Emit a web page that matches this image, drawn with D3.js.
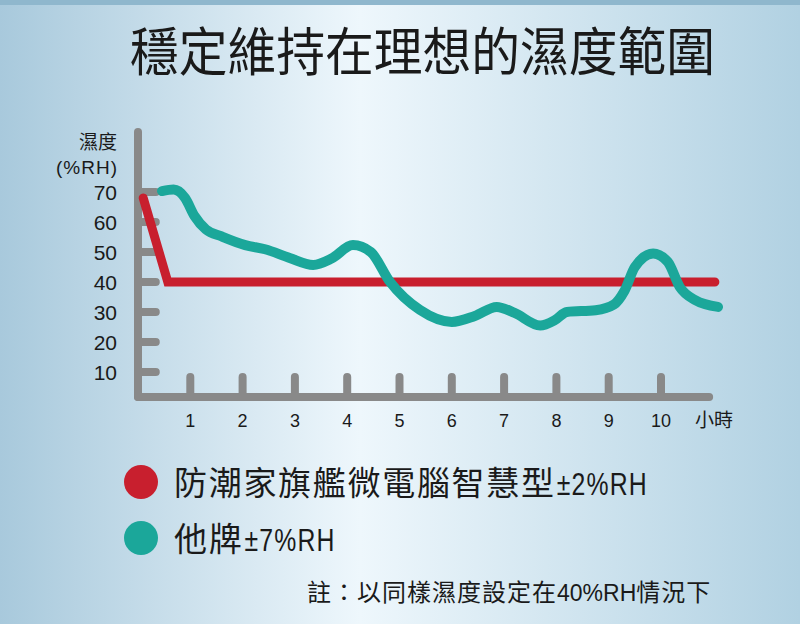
<!DOCTYPE html>
<meta charset="utf-8">
<script src="https://d3js.org/d3.v7.min.js"></script>
<style>
  body { margin: 0; }
  svg text { font-family: "Noto Sans CJK TC", "Noto Sans", sans-serif; fill: #1a1a1a; }
  svg .num { font-family: "Liberation Sans", Arial, sans-serif; }
</style>
<body>
<div id="visual"></div>
<script>

// chart data
var title = "穩定維持在理想的濕度範圍";
var hours = [1, 2, 3, 4, 5, 6, 7, 8, 9, 10];
var humidityTicks = [10, 20, 30, 40, 50, 60, 70];
var ourBrand = [[0.1, 68], [0.57, 40], [11.03, 40]];
var otherBrand = [
  [0.46, 70.3], [0.68, 70.8], [0.9, 68], [1.08, 62], [1.3, 57.5], [1.6, 55.2],
  [2.05, 52.3], [2.43, 50.9], [2.9, 48], [3.35, 45.7], [3.7, 47.8], [4.11, 52.3],
  [4.45, 50], [4.82, 40], [5.39, 30.7], [6.0, 26.7], [6.44, 28.7], [6.86, 31.7],
  [7.2, 29.7], [7.69, 25.5], [7.97, 27.3], [8.2, 30], [8.75, 30.6], [9.1, 32.5],
  [9.3, 37], [9.5, 45], [9.85, 49.5], [10.13, 46.7], [10.36, 38.3], [10.65, 34], [11.09, 31.7]
];
var legendLabels = [["防潮家旗艦微電腦智慧型", "±2%RH"], ["他牌", "±7%RH"]];
var note = ["註：以同樣濕度設定在", "40%RH", "情況下"];

var W = 800, H = 624;
var red = "#c81f2e", teal = "#1ba79a", gray = "#898989";

var svg = d3.select("#visual").append("svg")
  .attr("width", W).attr("height", H);

// background
var defs = svg.append("defs");
var grad = defs.append("linearGradient").attr("id", "bg").attr("x1", 0).attr("x2", 1).attr("y1", 0).attr("y2", 0);
grad.append("stop").attr("offset", "0%").attr("stop-color", "#a8c9dc");
grad.append("stop").attr("offset", "45%").attr("stop-color", "#eef7fc");
grad.append("stop").attr("offset", "100%").attr("stop-color", "#b1d1e2");
svg.append("rect").attr("width", W).attr("height", H).attr("fill", "url(#bg)");
svg.append("rect").attr("width", W).attr("height", 5).attr("fill", "#8fb7cd");

// title
svg.append("text")
  .attr("x", 130).attr("y", 71)
  .attr("font-size", 52)
  .attr("textLength", 585).attr("lengthAdjust", "spacingAndGlyphs")
  .text(title);

// scales
var x = d3.scaleLinear().domain([0, 10]).range([138, 661]);
var y = d3.scaleLinear().domain([0, 70]).range([402, 192]);
var base = y(1.7);

// axis bars
var axis = svg.append("g").attr("stroke", gray).attr("stroke-width", 8).attr("stroke-linecap", "round");
axis.selectAll(".yt").data(humidityTicks).enter().append("line")
  .attr("x1", x(0)).attr("x2", x(0.34))
  .attr("y1", function(d) { return y(d); }).attr("y2", function(d) { return y(d); });
axis.selectAll(".xt").data(hours).enter().append("line")
  .attr("x1", function(d) { return x(d); }).attr("x2", function(d) { return x(d); })
  .attr("y1", base).attr("y2", y(8.3));
axis.append("line").attr("x1", x(0)).attr("x2", x(0)).attr("y1", y(90)).attr("y2", base);
axis.append("line").attr("x1", x(0)).attr("x2", x(10.92)).attr("y1", base).attr("y2", base);

// y labels
svg.selectAll(".ylab").data(humidityTicks).enter().append("text")
  .attr("class", "num")
  .attr("x", 117).attr("y", function(d) { return y(d) + 8; })
  .attr("text-anchor", "end").attr("font-size", 21)
  .text(function(d) { return d; });
svg.append("text").attr("x", 117).attr("y", 149).attr("text-anchor", "end").attr("font-size", 19).text("濕度");
svg.append("text").attr("class", "num").attr("x", 118).attr("y", 174).attr("text-anchor", "end")
  .attr("font-size", 19).attr("letter-spacing", 1).text("(%RH)");

// x labels
svg.selectAll(".xlab").data(hours).enter().append("text")
  .attr("class", "num")
  .attr("x", function(d) { return x(d); }).attr("y", 427)
  .attr("text-anchor", "middle").attr("font-size", 18)
  .text(function(d) { return d; });
svg.append("text").attr("x", 714).attr("y", 427).attr("text-anchor", "middle").attr("font-size", 19).text("小時");

// lines
var line = d3.line().x(function(d) { return x(d[0]); }).y(function(d) { return y(d[1]); });
svg.append("path").datum(ourBrand)
  .attr("fill", "none").attr("stroke", red).attr("stroke-width", 9)
  .attr("stroke-linecap", "round").attr("stroke-linejoin", "miter")
  .attr("d", line);
svg.append("path").datum(otherBrand)
  .attr("fill", "none").attr("stroke", teal).attr("stroke-width", 10)
  .attr("stroke-linecap", "round")
  .attr("d", line.curve(d3.curveMonotoneX));

// legend: CJK part, then a narrowed latin part right after it
var lg = svg.selectAll(".lg").data(legendLabels).enter().append("g")
  .attr("transform", function(d, i) { return "translate(0," + (482 + i * 56) + ")"; });
lg.append("circle").attr("cx", 141).attr("cy", 0).attr("r", 17)
  .attr("fill", function(d, i) { return i === 0 ? red : teal; });
lg.each(function(d) {
  var g = d3.select(this);
  var t = g.append("text").attr("x", 174).attr("y", 13).attr("font-size", 33).attr("letter-spacing", 1.7).text(d[0]);
  var w = t.node().getComputedTextLength();
  g.append("text").attr("class", "num").attr("font-size", 31).attr("letter-spacing", 1.5)
    .attr("transform", "translate(" + (174 + w + 1) + ",13) scale(0.8,1)")
    .text(d[1]);
});

// footnote
var nt = svg.append("text").attr("x", 307).attr("y", 601).attr("font-size", 24).attr("letter-spacing", 1);
nt.append("tspan").text(note[0]);
nt.append("tspan").attr("class", "num").attr("font-size", 23).attr("letter-spacing", 0).text(note[1]);
nt.append("tspan").text(note[2]);

</script>
</body>
